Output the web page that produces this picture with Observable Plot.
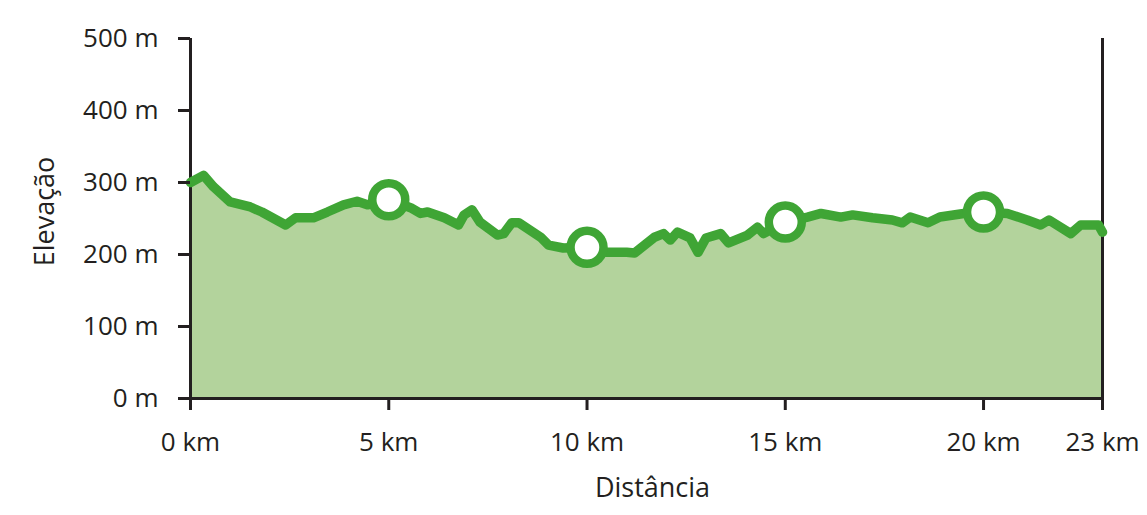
<!DOCTYPE html>
<html>
<head>
<meta charset="utf-8">
<script src="https://cdn.jsdelivr.net/npm/d3@7"></script>
<script src="https://cdn.jsdelivr.net/npm/@observablehq/plot@0.6"></script>
<style>
  html, body { margin: 0; padding: 0; background: white; }
</style>
</head>
<body>
<div id="chart"></div>
<script>
const km = [0, 0.33, 0.58, 1.0, 1.51, 1.8, 2.4, 2.65, 3.1, 3.45, 3.86, 4.2, 4.46, 5.0, 5.55, 5.8, 5.98, 6.4, 6.76, 6.9, 7.1, 7.3, 7.74, 7.9, 8.1, 8.28, 8.83, 9.03, 9.4, 10.0, 10.5, 11.0, 11.2, 11.7, 11.93, 12.1, 12.28, 12.6, 12.8, 13.0, 13.37, 13.57, 14.05, 14.3, 14.45, 15.0, 15.56, 15.9, 16.4, 16.7, 17.2, 17.7, 17.95, 18.15, 18.6, 18.9, 19.5, 20.0, 20.6, 21.1, 21.44, 21.65, 22.2, 22.45, 22.9, 23.0];
const elev = [300, 310, 294, 273, 266, 259, 241, 251, 251, 259, 269, 274, 269, 276, 265, 257, 259, 251, 241, 255, 262, 245, 227, 229, 244, 244, 224, 213, 209, 210, 203, 203, 202, 224, 229, 220, 231, 223, 203, 223, 229, 216, 227, 238, 229, 245, 252, 257, 252, 255, 251, 248, 244, 252, 244, 252, 257, 259, 257, 248, 241, 248, 229, 241, 241, 231];
const markerKm = [5, 10, 15, 20];
const markerElev = [276, 210, 245, 259];
const xTicks = [0, 5, 10, 15, 20, 23];
const yTicks = [0, 100, 200, 300, 400, 500];
const xLabel = "Distância";
const yLabel = "Elevação";

const profile = km.map((k, i) => ({km: k, elev: elev[i]}));
const markers = markerKm.map((k, i) => ({km: k, elev: markerElev[i]}));

const green = "#3fa535";
const fillGreen = "#b3d39c";
const ink = "#231f20";
const font = "Open Sans";

const chart = Plot.plot({
  width: 1147,
  height: 515,
  marginLeft: 190,
  marginRight: 45,
  marginTop: 38,
  marginBottom: 117,
  style: {fontFamily: font, fontSize: "26px", color: ink, background: "white"},
  x: {domain: [0, 23]},
  y: {domain: [0, 500]},
  marks: [
    Plot.areaY(profile, {x: "km", y: "elev", fill: fillGreen}),
    Plot.ruleX([0, 23], {y1: 0, y2: 500, stroke: ink, strokeWidth: 3}),
    Plot.ruleY([0], {stroke: ink, strokeWidth: 3}),
    Plot.lineY(profile, {x: "km", y: "elev", stroke: green, strokeWidth: 9.5, strokeLinejoin: "round", strokeLinecap: "round"}),
    Plot.dot(markers, {x: "km", y: "elev", r: 16.5, fill: "white", stroke: green, strokeWidth: 8.5}),
    Plot.axisX({ticks: xTicks, tickFormat: () => "", tickSize: 12, strokeWidth: 3, stroke: ink, label: null}),
    Plot.axisY({ticks: yTicks, tickFormat: () => "", tickSize: 12, strokeWidth: 3, stroke: ink, label: null}),
    Plot.text(xTicks, {x: d => d, text: d => d + " km", frameAnchor: "bottom", dy: 44, fontSize: 26, fill: ink, lineAnchor: "middle", textAnchor: "middle"}),
    Plot.text(yTicks, {y: d => d, text: d => d + " m", frameAnchor: "left", dx: -32, fontSize: 26, fill: ink, lineAnchor: "middle", textAnchor: "end"}),
    Plot.text([xLabel], {text: d => d, frameAnchor: "bottom", dx: 6, dy: 90, fontSize: 27, fill: ink, lineAnchor: "middle", textAnchor: "middle"}),
    Plot.text([yLabel], {text: d => d, frameAnchor: "left", dx: -145, dy: -7, rotate: -90, fontSize: 27, fill: ink, lineAnchor: "middle", textAnchor: "middle"})
  ]
});
document.getElementById("chart").appendChild(chart);
</script>
</body>
</html>
